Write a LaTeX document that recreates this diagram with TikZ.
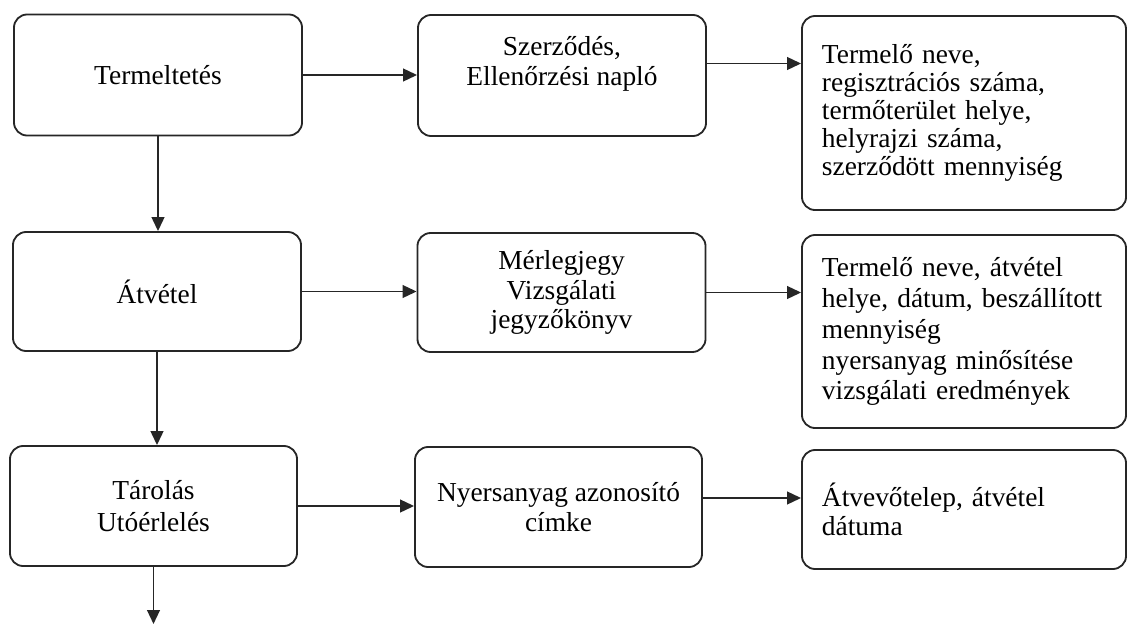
\documentclass[tikz,border=0pt]{standalone}
\usepackage{fontspec}
\setmainfont{Liberation Serif}
\usetikzlibrary{arrows.meta}

\begin{document}
\begin{tikzpicture}[x = 0.025cm, y = -0.025cm,
		stage/.style = {draw = black!85, line width = 1.3pt, rounded corners = 0.33cm, align = center, inner sep = 0pt, minimum width = 7.2cm, font = \fontsize{19.5}{21}\selectfont},
		record/.style = {stage, align = left, minimum width = 8.1cm, text width = 7.1cm, inner xsep = 0.5cm},
		flow/.style = {draw = black!85, line width = 1.3pt, -{Triangle[length = 0.35cm, width = 0.32cm]}}]
			\useasboundingbox (0,0) rectangle (1127,626);

			\begin{scope}
				\node[stage, minimum height = 3.025cm] (termeltetes) at (158,75) {Termeltetés};
				\node[stage, minimum height = 2.975cm] (atvetel) at (157,291.5) {Átvétel};
				\node[stage, minimum height = 3cm, minimum width = 7.175cm, font = \fontsize{19.5}{23}\selectfont] (tarolas) at (153.5,506) {Tárolás\\Utóérlelés};
			\end{scope}

			\begin{scope}
				\node[stage, minimum height = 3.025cm] (szerzodes) at (562,75.5) {Szerződés,\\Ellenőrzési napló\\ \mbox{}};
				\node[stage, minimum height = 2.975cm] (merlegjegy) at (561.5,292.5) {Mérlegjegy\\Vizsgálati\\jegyzőkönyv};
				\node[stage, minimum height = 3cm, minimum width = 7.175cm] (cimke) at (558.5,507) {Nyersanyag azonosító\\címke};
			\end{scope}

			\begin{scope}
				\node[record, minimum height = 4.85cm, font = \fontsize{19.5}{19.8}\selectfont] (termeloAdat) at (964,113) {Termelő neve,\\regisztrációs száma,\\termőterület helye,\\helyrajzi száma,\\szerződött mennyiség};
				\node[record, minimum height = 4.825cm, font = \fontsize{19.5}{22}\selectfont] (atvetelAdat) at (964,331.5) {Termelő neve, átvétel\\helye, dátum, beszállított\\mennyiség\\nyersanyag minősítése\\vizsgálati eredmények};
				\node[record, minimum height = 2.975cm] (telepAdat) at (964,509.5) {Átvevőtelep, átvétel\\dátuma};
			\end{scope}

			\begin{scope}
				\draw[flow] (termeltetes.east) -- (termeltetes.east -| szerzodes.west);
				\draw[flow] ([yshift = 0.3cm]szerzodes.east) -- ([yshift = 0.3cm]szerzodes.east -| termeloAdat.west);
				\draw[flow] (atvetel.east) -- (atvetel.east -| merlegjegy.west);
				\draw[flow] (merlegjegy.east) -- (merlegjegy.east -| atvetelAdat.west);
				\draw[flow] (tarolas.east) -- (tarolas.east -| cimke.west);
				\draw[flow] ([yshift = 0.225cm]cimke.east) -- ([yshift = 0.225cm]cimke.east -| telepAdat.west);
			\end{scope}

			\begin{scope}
				\coordinate (tovabb) at (153.5,624);
				\draw[flow] (termeltetes.south) -- (termeltetes.south |- atvetel.north);
				\draw[flow] (atvetel.south) -- (atvetel.south |- tarolas.north);
				\draw[flow] (tarolas.south) -- (tovabb);
			\end{scope}
		\end{tikzpicture}
\end{document}
